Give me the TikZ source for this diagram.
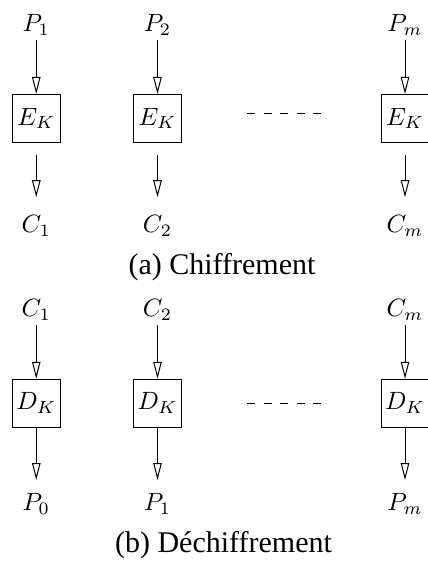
\documentclass[tikz,border=0pt]{standalone}
\usepackage{fontspec}
\setmainfont{Liberation Serif}
\usetikzlibrary{arrows.meta, positioning, calc}

\begin{document}
\begin{tikzpicture}[
    kbox/.style={rectangle, draw, line width=0.4pt, minimum size=19.2pt, inner sep=1pt},
    lbl/.style={inner xsep=3.33pt, inner ysep=1.7pt},
    arr/.style={-{Triangle[open, length=6.8pt, width=3.4pt]}, line width=0.4pt},
    dots/.style={line width=0.4pt, dash pattern=on 3.2pt off 3.4pt},
    capt/.style={font=\fontsize{12}{14}\selectfont},
    node distance=21.5pt
  ]
  \useasboundingbox (0,0) rectangle (170.8pt,-226.4pt);

  % (a) chiffrement
  \node[kbox] (e1) at (14.5pt,-47.4pt) {$E_K$};
  \node[kbox] (e2) at (63pt,-47.4pt) {$E_K$};
  \node[kbox] (em) at (162pt,-47.4pt) {$E_K$};

  \node[lbl, above=of e1] (p1) {$P_1$};
  \node[lbl, above=of e2] (p2) {$P_2$};
  \node[lbl, above=of em] (pm) {$P_m$};
  \node[lbl, below=27.2pt of e1] (c1) {$C_1$};
  \node[lbl, below=27.2pt of e2] (c2) {$C_2$};
  \node[lbl, below=27.2pt of em] (cm) {$C_m$};

  \draw[arr] (p1) -- (e1);
  \draw[arr] (p2) -- (e2);
  \draw[arr] (pm) -- (em);
  \draw[arr, shorten <=4.9pt, shorten >=5.5pt] (e1) -- (c1);
  \draw[arr, shorten <=4.9pt, shorten >=5.5pt] (e2) -- (c2);
  \draw[arr, shorten <=4.9pt, shorten >=5.5pt] (em) -- (cm);

  \coordinate (da1) at ($(e2.east)!0.328!(em.west) + (0,2pt)$);
  \coordinate (da2) at ($(e2.east)!0.699!(em.west) + (0,2pt)$);
  \draw[dots] (da1) -- (da2);

  \node[capt] (capa) at (88.8pt,-106.8pt) {(a) Chiffrement};

  % (b) dechiffrement
  \node[kbox] (d1) at (14.5pt,-161.3pt) {$D_K$};
  \node[kbox] (d2) at (63pt,-161.3pt) {$D_K$};
  \node[kbox] (dm) at (162pt,-161.3pt) {$D_K$};

  \node[lbl, above=of d1] (cc1) {$C_1$};
  \node[lbl, above=of d2] (cc2) {$C_2$};
  \node[lbl, above=of dm] (ccm) {$C_m$};
  \node[lbl, below=24.3pt of d1] (pp0) {$P_0$};
  \node[lbl, below=24.3pt of d2] (pp1) {$P_1$};
  \node[lbl, below=24.3pt of dm] (ppm) {$P_m$};

  \draw[arr] (cc1) -- (d1);
  \draw[arr] (cc2) -- (d2);
  \draw[arr] (ccm) -- (dm);
  \draw[arr, shorten >=3.4pt] (d1) -- (pp0);
  \draw[arr, shorten >=3.4pt] (d2) -- (pp1);
  \draw[arr, shorten >=3.4pt] (dm) -- (ppm);

  \coordinate (db1) at ($(d2.east)!0.328!(dm.west)$);
  \coordinate (db2) at ($(d2.east)!0.699!(dm.west)$);
  \draw[dots] (db1) -- (db2);

  \node[capt] (capb) at (89.4pt,-218pt) {(b) Déchiffrement};
\end{tikzpicture}
\end{document}
